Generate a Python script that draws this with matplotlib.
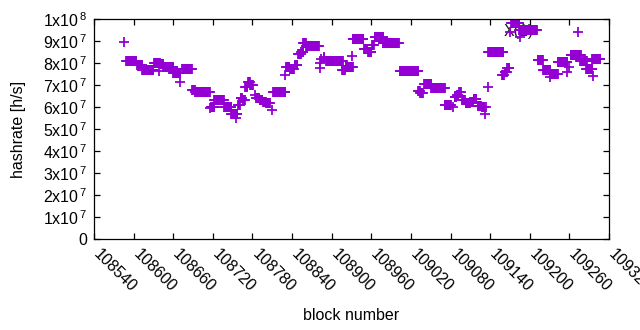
# -*- coding: utf-8 -*-
# hashrate per block, gnuplot-like look
import matplotlib
matplotlib.use("Agg")
from matplotlib import pyplot as plt
from matplotlib import transforms

plt.rcParams['font.family'] = ['Liberation Sans', 'DejaVu Sans']
plt.rcParams['mathtext.fontset'] = 'custom'
plt.rcParams['mathtext.rm'] = 'Liberation Sans'
plt.rcParams['mathtext.it'] = 'Liberation Sans'

# runs of blocks with the same hashrate: first block, last block, value (x1e7 h/s)
run_first = [108586, 108589, 108605, 108613, 108631, 108639, 108641, 108645, 108660, 108671,
             108674, 108689, 108693, 108715, 108717, 108722, 108737, 108748, 108755,
             108758, 108762, 108765, 108769, 108773, 108777, 108784,
             108786, 108791, 108796, 108801, 108810, 108811, 108829,
             108831, 108837, 108844, 108849, 108854, 108857, 108861,
             108883, 108883, 108884, 108888, 108889,
             108892, 108916, 108921, 108930, 108932,
             108949, 108955, 108961, 108965, 108977, 109003,
             109031, 109034, 109040, 109051, 109071, 109083,
             109086, 109090, 109093, 109098, 109103, 109110, 109115,
             109121, 109127, 109133, 109132, 109136, 109137,
             109158, 109162, 109166, 109170, 109172, 109184, 109185,
             109212, 109220, 109231, 109231, 109242, 109256, 109260, 109273,
             109262, 109276, 109285, 109296, 109295]
run_last = [108586, 108604, 108613, 108630, 108640, 108639, 108645, 108660, 108671, 108671,
            108688, 108693, 108715, 108715, 108722, 108737, 108748, 108757, 108755,
            108761, 108764, 108768, 108772, 108776, 108781, 108784,
            108790, 108795, 108800, 108806, 108810, 108830, 108829,
            108836, 108843, 108848, 108853, 108857, 108861, 108881,
            108883, 108883, 108884, 108888, 108889,
            108917, 108920, 108932, 108930, 108948,
            108954, 108960, 108964, 108978, 109002, 109031,
            109033, 109038, 109051, 109071, 109080, 109083,
            109089, 109092, 109096, 109102, 109109, 109114, 109119,
            109126, 109131, 109133, 109132, 109136, 109160,
            109161, 109165, 109169, 109170, 109184, 109211, 109185,
            109220, 109231, 109231, 109242, 109257, 109256, 109260, 109273,
            109277, 109286, 109295, 109296, 109307]
run_value = [8.94, 8.08, 7.90, 7.66, 8.02, 7.65, 7.95, 7.83, 7.53, 7.15,
             7.71, 6.76, 6.68, 5.94, 5.98, 6.30, 6.02, 5.70, 5.52,
             6.10, 6.40, 6.30, 6.90, 7.15, 7.00, 6.55,
             6.40, 6.30, 6.25, 6.20, 5.86, 6.67, 7.45,
             7.83, 7.71, 7.90, 8.41, 8.51, 8.92, 8.77,
             7.99, 7.76, 8.20, 8.25, 8.29,
             8.09, 7.70, 7.83, 8.32, 9.08,
             8.62, 8.52, 8.82, 9.17, 8.90, 7.65,
             6.72, 6.62, 7.05, 6.85, 6.07, 5.98,
             6.45, 6.55, 6.70, 6.32, 6.20, 6.25, 6.36,
             6.05, 5.98, 5.98, 5.67, 6.92, 8.48,
             7.45, 7.60, 7.79, 9.42, 9.80, 9.50, 9.20,
             8.12, 7.68, 7.38, 7.50, 8.05, 7.58, 7.83, 9.40,
             8.36, 8.10, 7.75, 7.42, 8.20]

x_ticks = [108540, 108600, 108660, 108720, 108780, 108840, 108900,
           108960, 109020, 109080, 109140, 109200, 109260, 109320]
y_ticks = [0, 1e7, 2e7, 3e7, 4e7, 5e7, 6e7, 7e7, 8e7, 9e7, 1e8]
y_labels = ['0'] + [r'%dx10$^{\,7}$' % k for k in range(1, 10)] + [r'1x10$^{\,8}$']


def main():
    blocks = []
    rates = []
    for b0, b1, v in zip(run_first, run_last, run_value):
        for b in range(b0, b1 + 1):
            blocks.append(b)
            rates.append(v * 1e7)

    fig = plt.figure(figsize=(6.4, 3.3), dpi=100)
    ax = fig.add_axes([94 / 640, 91 / 330, 515 / 640, 220 / 330])

    ax.text(0.825, 0.945, 'X(1)', transform=ax.transAxes, ha='center', va='center',
            fontsize=11.5, color='#202020', zorder=1)
    ax.plot(blocks, rates, linestyle='none', marker='+', markersize=6.5,
            markeredgewidth=1.3, color='#9400d3', zorder=2)

    ax.set_xlim(108540, 109320)
    ax.set_ylim(0, 1e8)
    ax.set_xticks(x_ticks)
    ax.set_xticklabels([])
    # rotated tick labels, gnuplot style (start just below the tick)
    shift = transforms.ScaledTranslation(2 / 100, -13 / 100, fig.dpi_scale_trans)
    for t in x_ticks:
        ax.text(t, 0, str(t), transform=ax.get_xaxis_transform() + shift,
                rotation=-45, rotation_mode='anchor', ha='left', va='center',
                fontsize=11.5, clip_on=False)
    ax.set_yticks(y_ticks)
    ax.set_yticklabels(y_labels, fontsize=11.5)
    ax.tick_params(direction='in', top=True, right=True, length=4, width=0.9, pad=5)
    for s in ax.spines.values():
        s.set_linewidth(0.9)

    fig.text(351 / 640, 1 - 315 / 330, 'block number', ha='center', va='center',
             fontsize=11.5)
    ax.set_ylabel('hashrate [h/s]', fontsize=11.5, labelpad=12)

    fig.savefig('out.png', dpi=100)


if __name__ == "__main__":
    main()
